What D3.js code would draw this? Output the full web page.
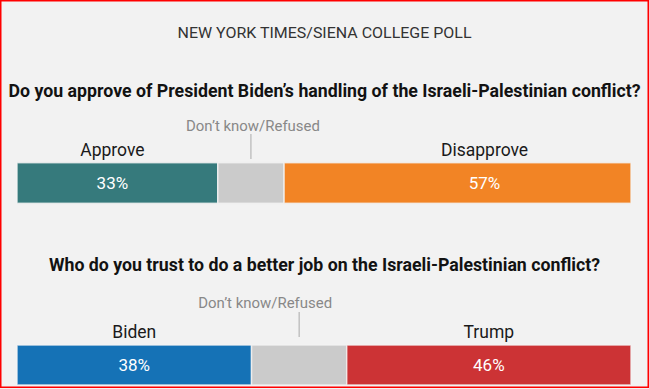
<!DOCTYPE html>
<html>
<head>
<meta charset="utf-8">
<script src="https://cdn.jsdelivr.net/npm/d3@7"></script>
<style>
  html, body { margin: 0; padding: 0; background: #f2f2f2; }
  svg { display: block; font-family: Roboto, "Liberation Sans", sans-serif; }
</style>
</head>
<body>
<svg id="chart" width="649" height="389"></svg>
<script>
// poll data
const pollTitle = 'NEW YORK TIMES/SIENA COLLEGE POLL'
const questions = [
    'Do you approve of President Biden\u2019s handling of the Israeli-Palestinian conflict?',
    'Who do you trust to do a better job on the Israeli-Palestinian conflict?'
]
const approveLabels = ['Approve', 'Don\u2019t know/Refused', 'Disapprove']
const approveValues = [32.7, 10.8, 56.5]
const trustLabels = ['Biden', 'Don\u2019t know/Refused', 'Trump']
const trustValues = [38.2, 15.5, 46.3]

const approveColors = ['#367a7c', '#cbcbcb', '#f28425']
const trustColors = ['#1572b6', '#cbcbcb', '#cc3335']

// layout for each question block
const rows = [
    {labels: approveLabels, values: approveValues, colors: approveColors,
     qY: 97, qLen: 632, dkY: 131, tickTop: 134, tickBottom: 159, dkShift: 2,
     barTop: 162.7, barBottom: 203.3, labelShift: [-5, 0, 27]},
    {labels: trustLabels, values: trustValues, colors: trustColors,
     qY: 271, qLen: 551, dkY: 308, tickTop: 312, tickBottom: 337, dkShift: -34,
     barTop: 345, barBottom: 385, labelShift: [0, 0, 0]}
]

const width = 649
const svg = d3.select('#chart')

const x = d3.scaleLinear().domain([0, 100]).range([17, 631])

svg.append('text')
    .attr('x', width / 2)
    .attr('y', 38.3)
    .attr('text-anchor', 'middle')
    .attr('textLength', 294)
    .attr('lengthAdjust', 'spacingAndGlyphs')
    .style('font-size', '14.5px')
    .style('fill', '#333')
    .text(pollTitle)

rows.forEach(function(row, r){

    // stack the segments
    let starts = []
    let acc = 0
    row.values.forEach(function(v){ starts.push(acc); acc += v })
    const segs = row.values.map((v, i) => ({label: row.labels[i], value: v, start: starts[i], color: row.colors[i], i: i}))

    const g = svg.append('g').attr('class', 'row-' + r)

    g.append('text')
        .attr('x', width / 2)
        .attr('y', row.qY)
        .attr('text-anchor', 'middle')
        .attr('textLength', row.qLen)
        .attr('lengthAdjust', 'spacingAndGlyphs')
        .style('font-size', '17.5px')
        .style('font-weight', 'bold')
        .style('fill', '#121212')
        .text(questions[r])

    g.selectAll('.seg')
        .data(segs)
        .enter()
        .append('rect')
        .attr('class', 'seg')
        .attr('x', d => x(d.start))
        .attr('y', row.barTop)
        .attr('width', d => x(d.start + d.value) - x(d.start))
        .attr('height', row.barBottom - row.barTop)
        .style('fill', d => d.color)
        .style('stroke', '#f2f2f2')
        .style('stroke-width', 1.5)
        .style('stroke-opacity', 0.8)

    const mid = d => (x(d.start) + x(d.start + d.value)) / 2

    // category names above the bar (not the middle one)
    const sides = segs.filter(d => d.i != 1)

    g.selectAll('.cat-label')
        .data(sides)
        .enter()
        .append('text')
        .attr('class', 'cat-label')
        .attr('x', d => mid(d) + row.labelShift[d.i])
        .attr('y', row.barTop - 6.7)
        .attr('text-anchor', 'middle')
        .style('font-size', '17.5px')
        .style('fill', '#1a1a1a')
        .text(d => d.label)

    g.selectAll('.pct-label')
        .data(sides)
        .enter()
        .append('text')
        .attr('class', 'pct-label')
        .attr('x', d => mid(d) + row.labelShift[d.i])
        .attr('y', (row.barTop + row.barBottom) / 2 + 6.3)
        .attr('text-anchor', 'middle')
        .style('font-size', '17px')
        .style('fill', '#fff')
        .text(d => Math.round(d.value) + '%')

    // don't know label with its leader line
    const dk = segs[1]
    g.append('line')
        .attr('x1', mid(dk)).attr('x2', mid(dk))
        .attr('y1', row.tickTop).attr('y2', row.tickBottom)
        .style('stroke', '#aaa')
        .style('stroke-width', 1)

    g.append('text')
        .attr('x', mid(dk) + row.dkShift)
        .attr('y', row.dkY)
        .attr('text-anchor', 'middle')
        .attr('textLength', 134)
        .attr('lengthAdjust', 'spacingAndGlyphs')
        .style('font-size', '15px')
        .style('fill', '#888')
        .text(dk.label)
})

// red frame round the picture
svg.append('rect')
    .attr('x', 0.75)
    .attr('y', 0.75)
    .attr('width', 647.5)
    .attr('height', 386.5)
    .style('fill', 'none')
    .style('stroke', '#ff0000')
    .style('stroke-width', 1.5)
</script>
</body>
</html>
